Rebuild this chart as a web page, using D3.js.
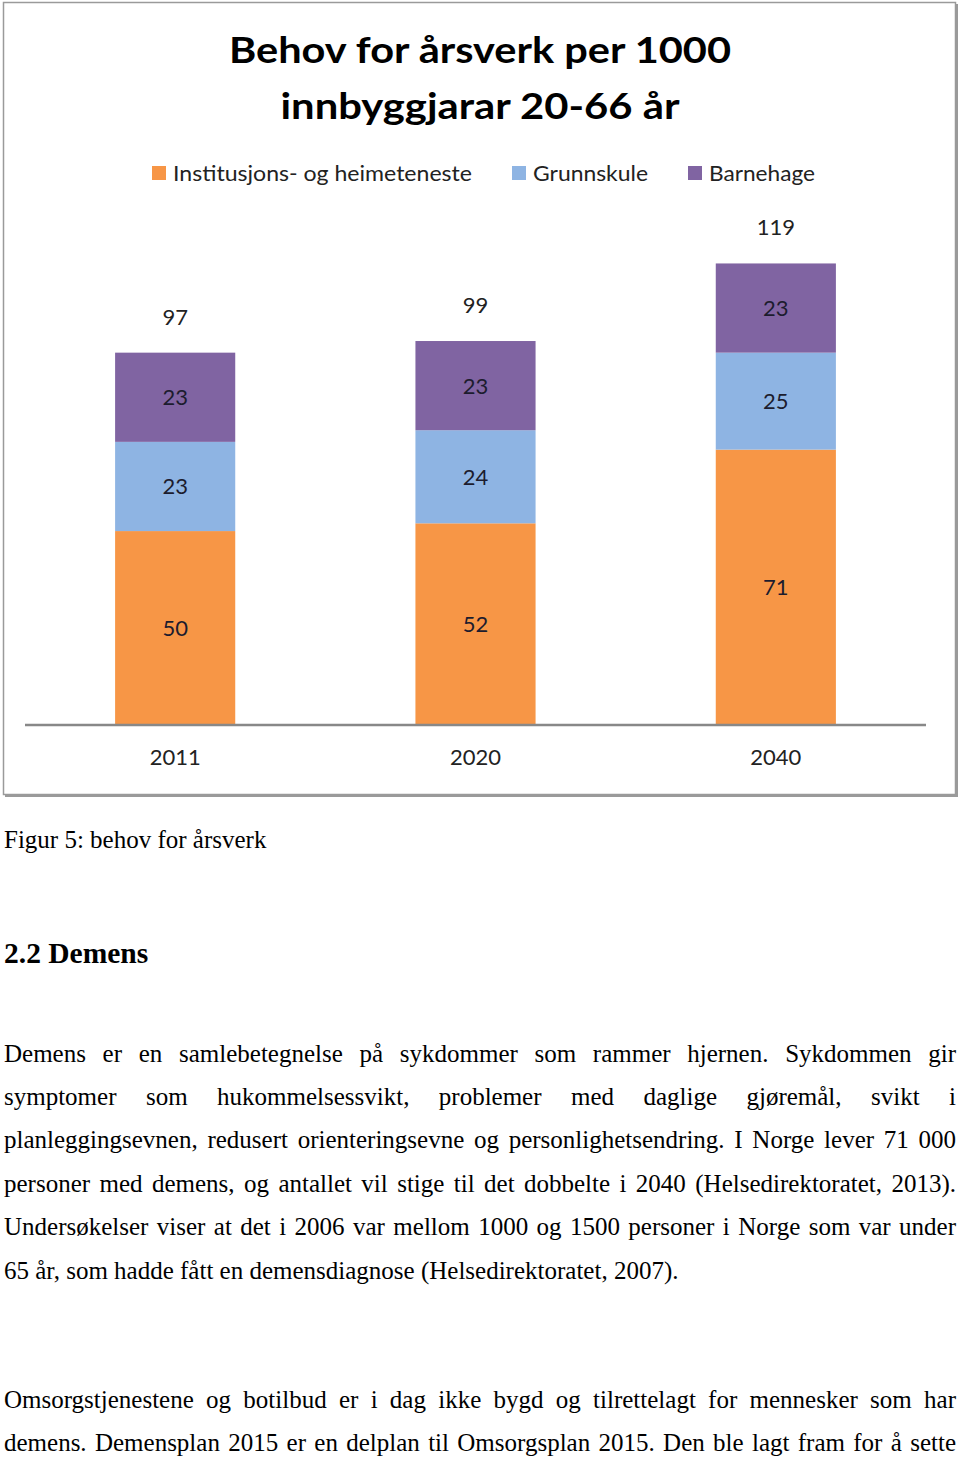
<!DOCTYPE html>
<html><head><meta charset="utf-8">
<script src="https://cdn.jsdelivr.net/npm/d3@7/dist/d3.min.js"></script>
<style>
html,body{margin:0;padding:0;background:#fff;}
#page{position:relative;width:960px;height:1460px;overflow:hidden;}
svg{position:absolute;left:0;top:0;}
.line{position:absolute;left:4px;width:952px;font-family:"Liberation Serif","Times New Roman",serif;font-size:25px;line-height:30px;height:30px;color:#000;white-space:nowrap;}
.just{text-align:justify;text-align-last:justify;}
.h2{font-weight:bold;font-size:29.5px;line-height:34px;height:34px;}
</style></head>
<body><div id="page"></div>
<script>
const categories = ["2011", "2020", "2040"];
const seriesNames = ["Institusjons- og heimeteneste", "Grunnskule", "Barnehage"];
const institusjon = [50, 52, 71];
const grunnskule = [23, 24, 25];
const barnehage = [23, 23, 23];
const totals = [97, 99, 119];
const titleLines = ["Behov for årsverk per 1000", "innbyggjarar 20-66 år"];
const caption = "Figur 5: behov for årsverk";
const heading = "2.2 Demens";
const para1 = [
 "Demens er en samlebetegnelse på sykdommer som rammer hjernen. Sykdommen gir",
 "symptomer som hukommelsessvikt, problemer med daglige gjøremål, svikt i",
 "planleggingsevnen, redusert orienteringsevne og personlighetsendring. I Norge lever 71 000",
 "personer med demens, og antallet vil stige til det dobbelte i 2040 (Helsedirektoratet, 2013).",
 "Undersøkelser viser at det i 2006 var mellom 1000 og 1500 personer i Norge som var under",
 "65 år, som hadde fått en demensdiagnose (Helsedirektoratet, 2007)."
];
const para2 = [
 "Omsorgstjenestene og botilbud er i dag ikke bygd og tilrettelagt for mennesker som har",
 "demens. Demensplan 2015 er en delplan til Omsorgsplan 2015. Den ble lagt fram for å sette"
];

const colors = ["#F79646", "#8EB4E3", "#8064A2"];
const chartFont = "Lato, 'Open Sans', sans-serif";

const page = d3.select("#page");
const svg = page.append("svg").attr("width", 960).attr("height", 800);

// chart frame with slight shadow
svg.append("rect").attr("x", 5).attr("y", 4).attr("width", 953).attr("height", 793).attr("fill", "#9a9a9a");
svg.append("rect").attr("x", 3.5).attr("y", 2.5).attr("width", 952).attr("height", 792)
  .attr("fill", "#fff").attr("stroke", "#9a9a9a").attr("stroke-width", 1.5);

// title
const titleWidths = [502, 399];
svg.append("g").selectAll("text").data(titleLines).join("text")
  .attr("x", 480).attr("y", (d, i) => 63 + i * 56)
  .attr("text-anchor", "middle")
  .attr("textLength", (d, i) => titleWidths[i]).attr("lengthAdjust", "spacingAndGlyphs")
  .attr("font-family", chartFont).attr("font-weight", "bold").attr("font-size", 36)
  .attr("fill", "#000").text(d => d);

// legend
const legendX = [152, 512, 688];
const legendW = [299, 115, 106];
const lg = svg.append("g").selectAll("g").data(seriesNames).join("g")
  .attr("transform", (d, i) => `translate(${legendX[i]},166)`);
lg.append("rect").attr("width", 14).attr("height", 14).attr("fill", (d, i) => colors[i]);
lg.append("text").attr("x", 21).attr("y", 15)
  .attr("textLength", (d, i) => legendW[i]).attr("lengthAdjust", "spacingAndGlyphs")
  .attr("font-family", chartFont).attr("font-size", 22).attr("fill", "#222").text(d => d);

// scales
const x = d3.scaleBand().domain(categories).range([25, 926]).paddingInner(0.6).paddingOuter(0.3);
const y = d3.scaleLinear().domain([0, 140]).range([725, 182]);

const table = categories.map((c, i) => ({cat: c, s0: institusjon[i], s1: grunnskule[i], s2: barnehage[i], total: totals[i]}));
const stack = d3.stack().keys(["s0", "s1", "s2"])(table);

const layers = svg.append("g").selectAll("g").data(stack).join("g").attr("fill", (d, i) => colors[i]);
layers.selectAll("rect").data(d => d).join("rect")
  .attr("x", d => x(d.data.cat)).attr("width", x.bandwidth())
  .attr("y", d => y(d[1])).attr("height", d => y(d[0]) - y(d[1]));

const labels = svg.append("g").selectAll("g").data(stack).join("g");
labels.selectAll("text").data(d => d).join("text")
  .attr("x", d => x(d.data.cat) + x.bandwidth() / 2)
  .attr("y", d => (y(d[0]) + y(d[1])) / 2 + 8)
  .attr("text-anchor", "middle").attr("font-family", chartFont).attr("font-size", 22)
  .attr("fill", "#1c1c2e").text(d => d[1] - d[0]);

// totals
svg.append("g").selectAll("text").data(table).join("text")
  .attr("x", d => x(d.cat) + x.bandwidth() / 2)
  .attr("y", d => y(d.s0 + d.s1 + d.s2) - 28)
  .attr("text-anchor", "middle").attr("font-family", chartFont).attr("font-size", 22)
  .attr("fill", "#222").text(d => d.total);

// axis
const xAxis = svg.append("g").attr("transform", "translate(0,725)")
  .call(d3.axisBottom(x).tickSize(0).tickPadding(24));
xAxis.select(".domain").attr("stroke", "#888").attr("stroke-width", 2.5).attr("d", "M25,0H926");
xAxis.selectAll("text").attr("font-family", chartFont).attr("font-size", 22).attr("fill", "#222");

// document text (baseline - 23.4 = top for 25px / 30px line-height)
function addLine(text, baseline, cls) {
  page.append("div").attr("class", "line " + (cls || "")).style("top", (baseline - 23.4) + "px").text(text);
}
addLine(caption, 848);
page.append("div").attr("class", "line h2").style("top", (963 - 27) + "px").text(heading);
para1.forEach((t, i) => addLine(t, 1062 + i * 43.4, i < para1.length - 1 ? "just" : ""));
para2.forEach((t, i) => addLine(t, 1408 + i * 43.6, "just"));
</script></body></html>
